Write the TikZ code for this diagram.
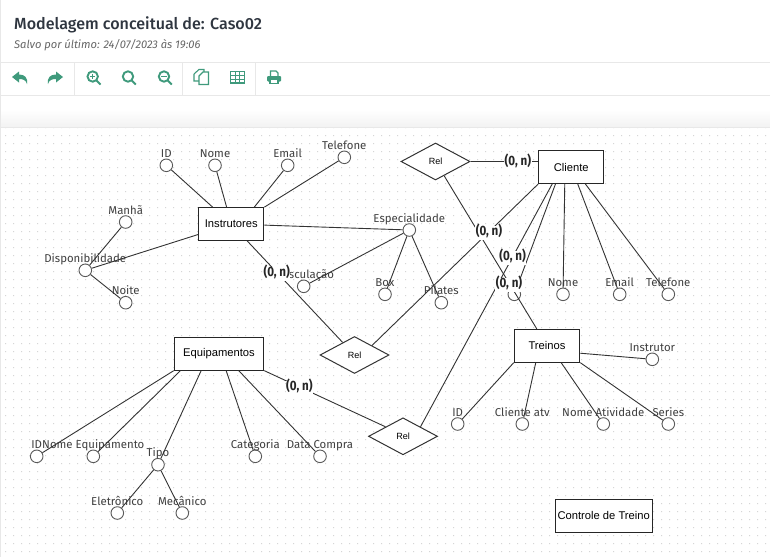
\documentclass[tikz,border=0pt]{standalone}
\usepackage{fontspec}
\setmainfont{Fira Sans}
\newfontfamily\boxfont{Liberation Sans}
\newfontfamily\headfont{Fira Sans Medium}
\newfontfamily\cardfont[FakeStretch=.86]{Fira Sans}
\usetikzlibrary{shapes.geometric}
\definecolor{iconcol}{HTML}{3F9A7C}
\definecolor{barline}{HTML}{E8E8E8}
\definecolor{griddot}{HTML}{D6D6D6}
\definecolor{linecol}{HTML}{333333}
\definecolor{headcol}{HTML}{2F3640}
\tikzset{
	entity/.style={
			draw=black!85, fill=white, line width=1.1pt, inner sep=0pt,
			minimum height=32.6pt, font=\boxfont\fontsize{11.2pt}{13pt}\selectfont
		},
	relation/.style={
			diamond, draw=linecol, fill=white, line width=1pt, inner sep=0pt, aspect=1.9,
			minimum width=69pt, minimum height=37pt, font=\boxfont\fontsize{9pt}{11pt}\selectfont
		},
	attrib/.style={
			circle, draw=black!65, fill=white, line width=.9pt, inner sep=0pt, minimum size=12.6pt
		},
	attriblabel/.style={
			inner sep=0pt, text height=9pt, text depth=.8pt, text=black!75,
			font=\fontsize{11.4pt}{13pt}\selectfont
		},
	edge/.style={draw=linecol, line width=.9pt},
	card/.style={
			fill=white, inner xsep=.5pt, inner ysep=1pt, text height=8.5pt, text depth=3.5pt, text=black!85,
			yshift=-1.5pt, font=\cardfont\bfseries\fontsize{13.5pt}{14pt}\selectfont
		},
	barrule/.style={draw=barline, line width=1pt},
	iconline/.style={draw=iconcol, line width=1.9pt},
	iconthin/.style={draw=iconcol, line width=1.1pt}
}

\begin{document}
\begin{tikzpicture}[x=1pt, y=-1pt]
		\useasboundingbox (0,0) rectangle (770,557);
		\fill [white] (0,0) rectangle (770,557);
		\shade [top color=white, bottom color=black!5] (1,110) rectangle (770,127);
		\fill [griddot] \foreach \y in {127,135,...,557} {
				\foreach \x in {5,13,...,770} {(\x,\y) rectangle ++(1,1)}
			};
		\draw [barrule] (.5,0) to (.5,557);
		\draw [barrule] (0,62.5) to (770,62.5);
		\draw [barrule] (0,95.5) to (770,95.5);
		\draw [barrule] (0,127) to (770,127);
		\draw [barrule] (74.5,62.5) to (74.5,95.5);
		\draw [barrule] (182.5,62.5) to (182.5,95.5);
		\draw [barrule] (255.5,62.5) to (255.5,95.5);

		\node [anchor=base west, inner sep=0pt, text=headcol, font=\headfont\fontsize{16.1pt}{18pt}\selectfont] (title) at (14,29.3) {Modelagem conceitual de: Caso02};
		\node [anchor=base west, inner sep=0pt, text=black!60, font=\itshape\fontsize{11.15pt}{13pt}\selectfont] (saved) at (14,48) {Salvo por último: 24/07/2023 às 19:06};

		\fill [iconcol] (12,77) to (19,71.5) to (19,74.5) .. controls (25,74.5) and (28,78) .. (27,84) .. controls (26,80) and (23,79) .. (19,79) to (19,82.5) to cycle;
		\fill [iconcol] (63,77) to (56,71.5) to (56,74.5) .. controls (50,74.5) and (47,78) .. (48,84) .. controls (49,80) and (52,79) .. (56,79) to (56,82.5) to cycle;
		\draw [iconline] (92.7,76.5) circle (5.2);
		\draw [iconline] (96.5,80.5) to (100.5,84.5);
		\draw [iconthin] (90,76.5) to (95.4,76.5) (92.7,73.8) to (92.7,79.2);
		\draw [iconline] (128,76.5) circle (5.2);
		\draw [iconline] (131.8,80.5) to (135.8,84.5);
		\draw [iconline] (164,76.5) circle (5.2);
		\draw [iconline] (167.8,80.5) to (171.8,84.5);
		\draw [iconthin] (161,76.5) to (167,76.5);
		\draw [iconthin] (194,74) to (199,69.5) to (204,69.5) to (204,74) (194,74) to (194,81) to (199,81);
		\draw [iconthin, fill=white] (199,76) to (203,72) to (208.5,72) to (208.5,84.5) to (199,84.5) to cycle;
		\draw [iconthin] (230.5,71.5) rectangle (244.5,83);
		\draw [iconthin] (230.5,75.3) to (244.5,75.3) (230.5,79.2) to (244.5,79.2) (235.2,71.5) to (235.2,83) (239.8,71.5) to (239.8,83);
		\draw [iconthin] (270.5,76) to (270.5,71) to (276,71) to (278,73) to (278,76);
		\fill [iconcol, rounded corners=1pt] (267,76) rectangle (281,81.5);
		\draw [iconthin, fill=white] (270,79.5) rectangle (278,83.5);

		\node [entity, minimum width=65pt] (instrutores) at (231.3,224) {Instrutores};
		\node [entity, minimum width=65pt] (cliente) at (571.2,167.2) {Cliente};
		\node [entity, minimum width=89.4pt] (equipamentos) at (219,353.8) {Equipamentos};
		\node [entity, minimum width=65.4pt] (treinos) at (547,345.8) {Treinos};
		\node [entity, minimum width=97.3pt] (controle) at (603.7,515.8) {Controle de Treino};

		\node [relation] (relCliente) at (435.5,161.5) {Rel};
		\node [relation] (relEspec) at (354.5,355) {Rel};
		\node [relation] (relEquip) at (403,436.3) {Rel};

		\node [attrib, label={[attriblabel]above:ID}] (instId) at (166.3,165.3) {};
		\node [attrib, label={[attriblabel]above:Nome}] (instNome) at (215,165.3) {};
		\node [attrib, label={[attriblabel]above:Email}] (instEmail) at (287.7,165.3) {};
		\node [attrib, label={[attriblabel]above:Telefone}] (instFone) at (344.3,157.3) {};
		\node [attrib, label={[attriblabel]above:Manhã}] (manha) at (125.7,222) {};
		\node [attrib, label={[attriblabel]above:Disponibilidade}] (dispon) at (85.3,270.3) {};
		\node [attrib, label={[attriblabel]above:Noite}] (noite) at (125.7,302.7) {};
		\node [attrib, label={[attriblabel]above:Especialidade}] (espec) at (409.3,230) {};
		\node [attrib, label={[attriblabel]above:Musculação}] (musc) at (303.7,286.3) {};
		\node [attrib, label={[attriblabel]above:Box}] (box) at (385,294.3) {};
		\node [attrib, label={[attriblabel]above:Pilates}] (pilates) at (441.3,302.7) {};

		\node [attrib] (cliId) at (514.3,294.3) {};
		\node [attrib, label={[attriblabel]above:Nome}] (cliNome) at (563,294.3) {};
		\node [attrib, label={[attriblabel]above:Email}] (cliEmail) at (619.7,294.3) {};
		\node [attrib, label={[attriblabel]above:Telefone}] (cliFone) at (668.3,294.3) {};

		\node [attrib, label={[attriblabel]above:ID}] (eqId) at (36.7,456.3) {};
		\node [attrib, label={[attriblabel]above:Nome Equipamento}] (eqNome) at (93.3,456.3) {};
		\node [attrib, label={[attriblabel]above:Tipo}] (tipo) at (158,464.7) {};
		\node [attrib, label={[attriblabel]above:Categoria}] (categoria) at (255.3,456.3) {};
		\node [attrib, label={[attriblabel]above:Data Compra}] (dataCompra) at (320,456.3) {};
		\node [attrib, label={[attriblabel]above:Eletrônico}] (eletronico) at (117.3,513) {};
		\node [attrib, label={[attriblabel]above:Mecânico}] (mecanico) at (182.3,513) {};

		\node [attrib, label={[attriblabel]above:Instrutor}] (treInstrutor) at (652.3,359.3) {};
		\node [attrib, label={[attriblabel]above:ID}] (treId) at (457.7,424) {};
		\node [attrib, label={[attriblabel]above:Cliente atv}] (treCliente) at (522.3,424) {};
		\node [attrib, label={[attriblabel]above:Nome Atividade}] (treNome) at (603.3,424) {};
		\node [attrib, label={[attriblabel]above:Series}] (treSeries) at (668.3,424) {};

		\draw [edge] (instId) to (instrutores);
		\draw [edge] (instNome) to (instrutores);
		\draw [edge] (instEmail) to ([xshift=56pt]instrutores.north west);
		\draw [edge] (instFone) to (instrutores.north east);
		\draw [edge] (dispon) to (instrutores);
		\draw [edge] (dispon) to (manha);
		\draw [edge] (dispon) to (noite);
		\draw [edge] (instrutores) to (espec);
		\draw [edge] (espec) to (musc);
		\draw [edge] (espec) to (box);
		\draw [edge] (espec) to (pilates);

		\draw [edge] ([xshift=17.3pt]cliente.south west) to (cliId);
		\draw [edge] ([xshift=26.6pt]cliente.south west) to (cliNome);
		\draw [edge] ([xshift=39.6pt]cliente.south west) to (cliEmail);
		\draw [edge] ([xshift=47.3pt]cliente.south west) to (cliFone);

		\draw [edge] (equipamentos.south west) to (eqId);
		\draw [edge] ([xshift=6.7pt]equipamentos.south west) to (eqNome);
		\draw [edge] ([xshift=27.4pt]equipamentos.south west) to (tipo);
		\draw [edge] ([xshift=52.4pt]equipamentos.south west) to (categoria);
		\draw [edge] ([xshift=65pt]equipamentos.south west) to (dataCompra);
		\draw [edge] (tipo) to (eletronico);
		\draw [edge] (tipo) to (mecanico);

		\draw [edge] ([yshift=-7.4pt]treinos.east) to (treInstrutor);
		\draw [edge] (treinos.south west) to (treId);
		\draw [edge] ([xshift=22pt]treinos.south west) to (treCliente);
		\draw [edge] ([xshift=47.4pt]treinos.south west) to (treNome);
		\draw [edge] (treinos.south east) to (treSeries);

		\draw [edge] ([xshift=14pt]cliente.south west) to node [card, pos=.3]{(0, n)} (relEquip.north east);
		\draw [edge] (relCliente) to node [card, pos=.7]{(0, n)} (treinos);
		\draw [edge] (cliente.south west) to node [card, pos=.296]{(0, n)} (relEspec.north east);
		\draw [edge] (relCliente.east) to node [card, pos=.7]{(0, n)} (relCliente.east -| cliente.west);
		\draw [edge] (instrutores) to node [card, pos=.31]{(0, n)} (relEspec);
		\draw [edge] (equipamentos.south east) to node [card, pos=.29]{(0, n)} (relEquip.north west);
	\end{tikzpicture}
\end{document}
